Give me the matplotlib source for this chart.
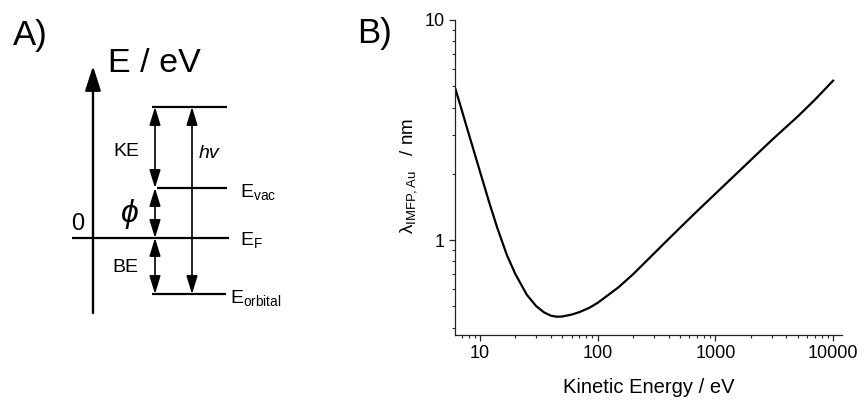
import matplotlib
matplotlib.use('Agg')
import matplotlib.pyplot as plt
from matplotlib.ticker import FuncFormatter, NullFormatter, LogLocator

plt.rcParams['font.family'] = ['Liberation Sans', 'DejaVu Sans']
plt.rcParams['mathtext.fontset'] = 'custom'
plt.rcParams['mathtext.rm'] = 'Liberation Sans'
plt.rcParams['mathtext.it'] = 'Liberation Sans:italic'

# 面板 B：Au 的非弹性平均自由程
energy_ev = [6.2, 7, 8, 9, 10, 12, 14, 17, 20, 25, 30, 35, 40, 45, 50, 60, 70,
             85, 100, 150, 200, 300, 500, 700, 1000, 2000, 3000, 5000, 7000, 10000]
imfp_nm = [4.85, 3.90, 3.06, 2.48, 2.05, 1.48, 1.14, 0.85, 0.70, 0.564, 0.501,
           0.469, 0.453, 0.448, 0.449, 0.458, 0.470, 0.492, 0.518, 0.609, 0.699,
           0.867, 1.136, 1.353, 1.623, 2.31, 2.84, 3.64, 4.34, 5.30]

# 面板 A：能级示意图（像素坐标）
level_y = {'top': 107, 'vac': 188, 'fermi': 238, 'orbital': 294}
level_x0 = {'top': 152, 'vac': 157, 'fermi': 72, 'orbital': 152}
level_x1 = {'top': 227, 'vac': 227, 'fermi': 229, 'orbital': 226}
arrow_x = 155
hv_x = 192
axis_x = 93

W, H = 867, 401
fig = plt.figure(figsize=(W / 100, H / 100), dpi=100)

# 覆盖整张图的画布，用像素坐标画示意图
ax0 = fig.add_axes([0, 0, 1, 1])
ax0.set_xlim(0, W)
ax0.set_ylim(H, 0)
ax0.axis('off')

ax0.annotate('', xy=(axis_x, 66), xytext=(axis_x, 313),
             arrowprops=dict(arrowstyle='-|>,head_length=0.75,head_width=0.24',
                             lw=1.7, color='black', shrinkA=0, shrinkB=0,
                             mutation_scale=20))
for k in level_y:
    ax0.plot([level_x0[k], level_x1[k]], [level_y[k], level_y[k]],
             color='black', lw=1.6, solid_capstyle='butt')

dbl = dict(arrowstyle='<|-|>,head_length=0.55,head_width=0.17', lw=1.2,
           color='black', shrinkA=0, shrinkB=0, mutation_scale=20)
for a, b in [('top', 'vac'), ('vac', 'fermi'), ('fermi', 'orbital')]:
    ax0.annotate('', xy=(arrow_x, level_y[a]), xytext=(arrow_x, level_y[b]),
                 arrowprops=dbl)
ax0.annotate('', xy=(hv_x, level_y['top']), xytext=(hv_x, level_y['orbital']),
             arrowprops=dbl)

ax0.text(13, 35, 'A)', fontsize=25, ha='left', va='center')
ax0.text(154, 64, 'E / eV', fontsize=24.5, ha='center', va='center')
ax0.text(78, 224, '0', fontsize=17, ha='center', va='center')
ax0.text(126, 152, 'KE', fontsize=14, ha='center', va='center')
ax0.text(125, 268, 'BE', fontsize=14, ha='center', va='center')
ax0.text(199, 153, 'hv', fontsize=14, style='italic', ha='left', va='center')
ax0.text(130, 214, 'ϕ', fontsize=23, style='italic', ha='center', va='center')
ax0.text(240, 197, r'E$_\mathregular{vac}$', fontsize=14, ha='left', va='baseline')
ax0.text(240, 245, r'E$_\mathregular{F}$', fontsize=14, ha='left', va='baseline')
ax0.text(230, 303, r'E$_\mathregular{orbital}$', fontsize=14, ha='left', va='baseline')

ax0.text(357, 33, 'B)', fontsize=25, ha='left', va='center')
ax0.text(409, 176, r'λ$_\mathregular{IMFP,Au}$   / nm', fontsize=13.5,
         rotation=90, ha='center', va='center')

# 面板 B 曲线
ax = fig.add_axes([455 / W, (H - 335) / H, 387 / W, 315 / H])
ax.plot(energy_ev, imfp_nm, color='black', lw=1.6)
ax.set_xscale('log')
ax.set_yscale('log')
ax.set_xlim(6.14, 11900)
ax.set_ylim(0.37, 10)
ax.spines['top'].set_visible(False)
ax.spines['right'].set_visible(False)
for s in ['left', 'bottom']:
    ax.spines[s].set_color('#222222')
    ax.spines[s].set_linewidth(0.9)
fmt = FuncFormatter(lambda v, p: f'{v:g}')
ax.xaxis.set_major_formatter(fmt)
ax.yaxis.set_major_formatter(fmt)
ax.xaxis.set_minor_formatter(NullFormatter())
ax.yaxis.set_minor_formatter(NullFormatter())
ax.yaxis.set_minor_locator(LogLocator(base=10, subs=range(2, 10)))
ax.xaxis.set_minor_locator(LogLocator(base=10, subs=range(2, 10)))
ax.tick_params(which='major', direction='out', length=4.5, width=0.9,
               color='#222222', labelsize=13, pad=3)
ax.tick_params(which='minor', direction='out', length=2.5, width=0.8,
               color='#222222')
ax.set_xlabel('Kinetic Energy / eV', fontsize=14.5, labelpad=11)

fig.savefig('out.png', dpi=100)
